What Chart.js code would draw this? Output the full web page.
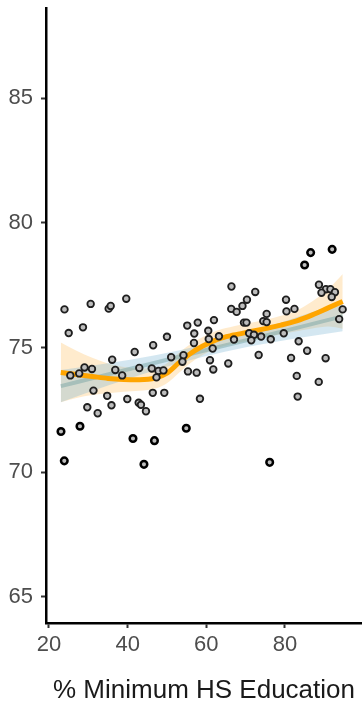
<!DOCTYPE html>
<html>
<head>
<meta charset="utf-8">
<script src="https://cdn.jsdelivr.net/npm/chart.js@4/dist/chart.umd.min.js"></script>
<style>
  html, body { margin: 0; padding: 0; background: #ffffff; }
  #wrap { width: 362px; height: 709px; }
</style>
</head>
<body>
<div id="wrap"><canvas id="chart" width="362" height="709"></canvas></div>
<script>
// Share of adults with at least a high-school education vs. life expectancy
const eduPct = [
  23.94, 30.60, 35.18, 35.69, 39.65, 25.01, 28.64, 36.07, 41.79, 29.03,
  30.93, 27.68, 25.42, 36.86, 42.96, 38.61, 31.31, 34.80, 35.89, 39.91,
  42.81, 43.39, 44.66, 29.74, 32.38, 23.05, 27.88, 41.36, 23.89, 44.15,
  66.40, 66.35, 67.72, 69.20, 69.58, 55.16, 57.83, 61.95, 50.00, 56.94,
  60.50, 46.49, 56.87, 60.63, 63.22, 67.04, 61.62, 51.07, 54.20, 53.94,
  60.94, 61.78, 65.59, 46.14, 47.84, 49.11, 47.33, 55.34, 57.55, 46.39,
  49.32, 58.39, 54.91, 46.82,
  86.54, 92.01, 85.01, 72.45, 70.34, 88.65, 90.43, 91.57, 92.72, 89.29,
  91.90, 80.28, 80.39, 82.42, 94.68, 93.79, 75.35, 70.22, 74.49, 75.35,
  70.90, 72.12, 71.44, 73.95, 76.40, 79.70, 83.49, 73.32, 81.56, 85.65,
  90.35, 83.01, 88.60, 83.24, 76.12
];
const lifeExp = [
  76.53, 76.75, 76.56, 76.67, 76.96, 75.58, 75.81, 74.51, 74.82, 74.20,
  74.14, 73.96, 73.88, 74.10, 74.18, 73.88, 73.27, 73.06, 72.68, 72.93,
  72.78, 72.70, 72.44, 72.60, 72.36, 71.63, 71.84, 71.35, 70.45, 70.31,
  77.45, 76.55, 76.43, 76.67, 76.00, 75.88, 76.00, 76.10, 75.43, 75.56,
  75.67, 75.09, 75.18, 75.34, 75.45, 75.32, 74.96, 74.61, 74.69, 74.43,
  74.49, 74.12, 74.36, 74.16, 74.06, 74.08, 73.80, 74.04, 73.99, 73.18,
  73.18, 72.94, 71.76, 71.26,
  78.81, 78.94, 78.31, 77.23, 76.92, 77.52, 77.34, 77.34, 77.22, 77.20,
  77.03, 76.92, 76.45, 76.55, 76.53, 76.14, 76.35, 76.00, 76.06, 76.02,
  75.57, 75.51, 75.29, 75.44, 75.33, 75.57, 75.25, 74.70, 74.58, 74.87,
  74.57, 73.86, 73.62, 73.03, 70.39
];

// Local (loess) smoother with its confidence band
const loessX   = [23, 27, 31, 35, 39, 43, 47, 50, 53, 56, 59, 63, 67, 71, 75, 79, 83, 87, 91, 94.7];
const loessFit = [74.00, 73.92, 73.84, 73.76, 73.72, 73.71, 73.77, 73.97, 74.38, 74.76,
                  75.05, 75.34, 75.50, 75.63, 75.76, 75.90, 76.07, 76.31, 76.59, 76.85];
const loessHi  = [75.20, 74.87, 74.59, 74.36, 74.22, 74.16, 74.19, 74.37, 74.78, 75.14,
                  75.41, 75.69, 75.85, 75.98, 76.11, 76.27, 76.49, 76.86, 77.34, 77.95];
const loessLo  = [72.80, 72.97, 73.09, 73.16, 73.22, 73.26, 73.35, 73.57, 73.98, 74.38,
                  74.69, 74.99, 75.15, 75.28, 75.41, 75.53, 75.65, 75.76, 75.84, 75.75];

// Straight-line fit with its confidence band
const lmX   = [23, 35, 47, 59, 71, 83, 94.7];
const lmFit = [73.45, 73.92, 74.39, 74.86, 75.32, 75.79, 76.25];
const lmHi  = [74.10, 74.37, 74.69, 75.10, 75.60, 76.21, 76.85];
const lmLo  = [72.80, 73.47, 74.09, 74.62, 75.04, 75.37, 75.65];

const xTicks = [20, 40, 60, 80];
const yTicks = [65, 70, 75, 80, 85];

const pairs = (xs, ys) => xs.map((x, i) => ({ x: x, y: ys[i] }));
const isExtreme = v => v < 72 || v > 78;

const lineBase = {
  type: 'line',
  pointRadius: 0,
  pointHoverRadius: 0,
  cubicInterpolationMode: 'monotone',
  spanGaps: true
};

const tickFont = { family: "'Liberation Sans', Arial, sans-serif", size: 22 };

new Chart(document.getElementById('chart'), {
  type: 'scatter',
  data: {
    datasets: [
      {
        label: 'counties',
        data: pairs(eduPct, lifeExp),
        order: 0,
        pointRadius: 3.3,
        pointHoverRadius: 3.3,
        pointBackgroundColor: '#bdbdbd',
        pointBorderColor: ctx => (ctx.raw && isExtreme(ctx.raw.y)) ? '#000000' : '#1e1e1e',
        pointBorderWidth: ctx => (ctx.raw && isExtreme(ctx.raw.y)) ? 2.5 : 1.8
      },
      Object.assign({}, lineBase, {
        label: 'loess',
        data: pairs(loessX, loessFit),
        order: 1,
        borderColor: '#FFA500',
        borderWidth: 5,
        fill: false
      }),
      Object.assign({}, lineBase, {
        label: 'lm',
        data: pairs(lmX, lmFit),
        order: 2,
        borderColor: 'rgba(110,160,160,0.45)',
        borderWidth: 4,
        fill: false
      }),
      Object.assign({}, lineBase, {
        label: 'lm upper',
        data: pairs(lmX, lmHi),
        order: 3,
        borderWidth: 0,
        borderColor: 'rgba(0,0,0,0)',
        backgroundColor: 'rgba(120,180,210,0.32)',
        fill: { target: 4 }
      }),
      Object.assign({}, lineBase, {
        label: 'lm lower',
        data: pairs(lmX, lmLo),
        order: 3,
        borderWidth: 0,
        borderColor: 'rgba(0,0,0,0)',
        fill: false
      }),
      Object.assign({}, lineBase, {
        label: 'loess upper',
        data: pairs(loessX, loessHi),
        order: 4,
        borderWidth: 0,
        borderColor: 'rgba(0,0,0,0)',
        backgroundColor: 'rgba(255,190,90,0.30)',
        fill: { target: 6 }
      }),
      Object.assign({}, lineBase, {
        label: 'loess lower',
        data: pairs(loessX, loessLo),
        order: 4,
        borderWidth: 0,
        borderColor: 'rgba(0,0,0,0)',
        fill: false
      })
    ]
  },
  options: {
    responsive: false,
    devicePixelRatio: 1,
    animation: false,
    layout: { autoPadding: false, padding: { top: 8, right: 0, bottom: 0, left: 0 } },
    plugins: {
      legend: { display: false },
      tooltip: { enabled: false }
    },
    scales: {
      x: {
        type: 'linear',
        min: 19.24,
        max: 99.6,
        afterFit: s => { s.height = 86; s.paddingLeft = 0; s.paddingRight = 0; },
        afterBuildTicks: s => { s.ticks = xTicks.map(v => ({ value: v })); },
        grid: { drawOnChartArea: false, drawTicks: true, tickLength: 5, tickColor: '#333333', tickWidth: 2 },
        border: { display: true, color: '#000000', width: 2.5 },
        ticks: { color: '#4d4d4d', font: tickFont, padding: 4, maxRotation: 0, autoSkip: false },
        title: {
          display: true,
          text: '% Minimum HS Education',
          color: '#1a1a1a',
          font: { family: "'Liberation Sans', Arial, sans-serif", size: 26 },
          padding: { top: 0, bottom: 3 }
        }
      },
      y: {
        type: 'linear',
        min: 63.94,
        max: 88.63,
        afterFit: s => { s.width = 46; s.paddingTop = 0; s.paddingBottom = 0; },
        afterBuildTicks: s => { s.ticks = yTicks.map(v => ({ value: v })); },
        grid: { drawOnChartArea: false, drawTicks: true, tickLength: 5, tickColor: '#333333', tickWidth: 2 },
        border: { display: true, color: '#000000', width: 2.5 },
        ticks: { color: '#4d4d4d', font: tickFont, padding: 8, autoSkip: false }
      }
    }
  }
});
</script>
</body>
</html>
